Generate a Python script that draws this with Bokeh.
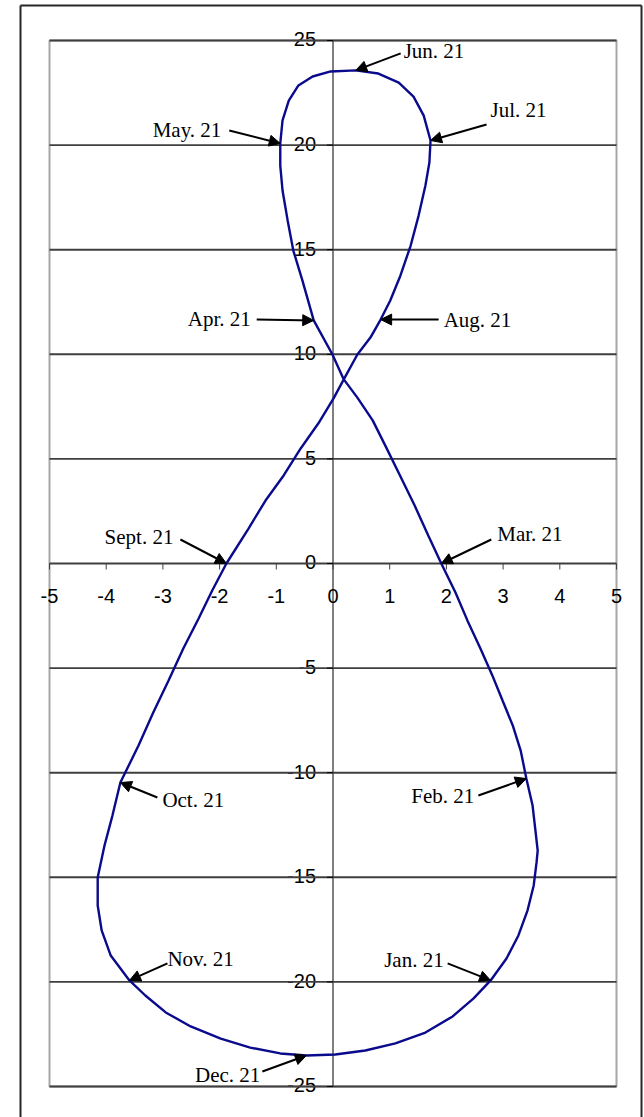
from bokeh.plotting import figure
from bokeh.models import Range1d, ColumnDataSource, Arrow, NormalHead
from bokeh.core.properties import value
from bokeh.embed import file_html
from bokeh.resources import INLINE

# Noon position of the sun through the year (analemma):
# east-west offset in degrees and declination in degrees, starting at Dec. 21
sun_x = [-0.47, 0.04, 0.57, 1.10, 1.63, 2.11, 2.48, 2.78, 3.06, 3.27, 3.43, 3.54,
         3.59, 3.61, 3.57, 3.52, 3.41, 3.31, 3.17, 2.99, 2.81, 2.60, 2.37, 2.16,
         1.91, 1.68, 1.44, 1.19, 0.94, 0.70, 0.43, 0.19, -0.01, -0.34, -0.54, -0.70,
         -0.80, -0.89, -0.93, -0.93, -0.89, -0.78, -0.61, -0.36, -0.04, 0.40, 0.80,
         1.16, 1.42, 1.60, 1.72, 1.70, 1.63, 1.51, 1.37, 1.19, 1.01, 0.84, 0.66,
         0.43, 0.19, 0.01, -0.26, -0.57, -0.87, -1.19, -1.49, -1.88, -2.13, -2.37,
         -2.64, -2.90, -3.17, -3.43, -3.75, -3.89, -4.03, -4.15, -4.15, -4.08, -3.92,
         -3.59, -3.31, -2.95, -2.51, -1.98, -1.46, -0.93, -0.47]
sun_decl = [-23.52, -23.47, -23.28, -22.94, -22.42, -21.65, -20.79, -19.93, -18.88,
            -17.78, -16.59, -15.39, -14.29, -13.72, -12.76, -11.57, -10.28, -8.94,
            -7.74, -6.55, -5.35, -4.06, -2.72, -1.39, 0.00, 1.34, 2.77, 4.16, 5.54,
            6.84, 7.93, 8.80, 9.99, 11.62, 13.53, 14.96, 16.40, 17.83, 19.02, 20.08,
            21.18, 22.13, 22.85, 23.28, 23.52, 23.57, 23.42, 22.99, 22.32, 21.41,
            20.22, 19.17, 18.07, 16.63, 15.20, 13.77, 12.57, 11.66, 10.80, 9.99, 8.80,
            7.89, 6.69, 5.50, 4.21, 3.01, 1.67, 0.00, -1.29, -2.63, -4.06, -5.59,
            -7.12, -8.70, -10.47, -12.05, -13.48, -15.01, -16.35, -17.54, -18.74,
            -19.93, -20.65, -21.46, -22.13, -22.71, -23.14, -23.42, -23.52]

# Marked dates on the curve
dates = ["Jun. 21", "Jul. 21", "May. 21", "Apr. 21", "Aug. 21", "Sept. 21",
         "Mar. 21", "Oct. 21", "Feb. 21", "Nov. 21", "Jan. 21", "Dec. 21"]
date_x = [0.40, 1.72, -0.93, -0.34, 0.84, -1.88, 1.91, -3.75, 3.41, -3.59, 2.78, -0.47]
date_decl = [23.57, 20.22, 20.08, 11.62, 11.66, 0.00, 0.00, -10.47, -10.28, -19.93,
             -19.93, -23.52]

x_ticks = [-5, -4, -3, -2, -1, 0, 1, 2, 3, 4, 5]
y_ticks = [-25, -20, -15, -10, -5, 0, 5, 10, 15, 20, 25]

# ---- page geometry (pixels) ----
W, H = 644, 1117
PL, PR, PT, PB = 49, 616, 40, 1086          # plot area edges
XMIN, XMAX, YMIN, YMAX = -5, 5, -25, 25
SX = (PR - PL) / (XMAX - XMIN)              # px per x unit
SY = (PB - PT) / (YMAX - YMIN)              # px per y unit


def gx(px):
    return XMIN + (px - PL) / SX


def gy(py):
    return YMAX - (py - PT) / SY


p = figure(width=W, height=H, output_backend="svg", toolbar_location=None,
           x_range=Range1d(gx(0), gx(W)), y_range=Range1d(gy(H), gy(0)),
           x_axis_location=None, y_axis_location=None, min_border=0,
           background_fill_color="white", border_fill_color="white")
p.outline_line_color = None
p.grid.visible = False

# outer chart border (left, top, right)
p.segment(x0=[gx(20), gx(20), gx(641)], y0=[gy(1130), gy(5), gy(5)],
          x1=[gx(20), gx(641), gx(641)], y1=[gy(5), gy(5), gy(1130)],
          line_color="#262626", line_width=2)

# plot area frame
p.quad(left=[XMIN], right=[XMAX], bottom=[YMIN], top=[YMAX],
       fill_color=None, line_color="#a6a6a6", line_width=2)

# vertical axis through x = 0
p.segment(x0=[0], y0=[YMIN], x1=[0], y1=[YMAX], line_color="black", line_width=1)

# tick labels (value labels sit on their grid line)
tick_font = value("Liberation Sans")
p.text(x=[0 - 17 / SX] * len(y_ticks), y=[t + 1.2 / SY for t in y_ticks],
       text=[str(t) for t in y_ticks],
       text_font=tick_font, text_font_size="20px", text_align="right",
       text_baseline="middle", text_color="black")
p.text(x=x_ticks, y=[0 - 32 / SY] * len(x_ticks), text=[str(t) for t in x_ticks],
       text_font=tick_font, text_font_size="20px", text_align="center",
       text_baseline="middle", text_color="black")

# horizontal grid lines (the one at 0 doubles as the x axis)
p.segment(x0=[XMIN] * len(y_ticks), y0=y_ticks, x1=[XMAX] * len(y_ticks), y1=y_ticks,
          line_color="#3f3f3f", line_width=1.9)

# tick marks
p.segment(x0=x_ticks, y0=[0] * len(x_ticks), x1=x_ticks, y1=[-6 / SY] * len(x_ticks),
          line_color="#3f3f3f", line_width=1)
p.segment(x0=[0] * len(y_ticks), y0=y_ticks, x1=[-6 / SX] * len(y_ticks), y1=y_ticks,
          line_color="black", line_width=1)

# the analemma
p.line(sun_x, sun_decl, line_color="#0a0a8c", line_width=2.4)

# label placement: (text dx, text dy, align, arrow-start dx, arrow-start dy) in px
placement = {
    "Jun. 21": (48, -19, "left", 45, -17),
    "Jul. 21": (60, -30, "left", 56, -16),
    "May. 21": (-59, -13, "right", -51, -13),
    "Apr. 21": (-63, -1, "right", -57, -1),
    "Aug. 21": (63, 0, "left", 58, 0),
    "Sept. 21": (-53, -27, "right", -46, -24),
    "Mar. 21": (56, -30, "left", 50, -24),
    "Oct. 21": (42, 17, "left", 37, 15),
    "Feb. 21": (-52, 17, "right", -48, 17),
    "Nov. 21": (38, -21, "left", 38, -17),
    "Jan. 21": (-47, -20, "right", -43, -17),
    "Dec. 21": (-46, 19, "right", -44, 16),
}

arrows = ColumnDataSource(data=dict(
    xs=[x + placement[d][3] / SX for d, x in zip(dates, date_x)],
    ys=[y - placement[d][4] / SY for d, y in zip(dates, date_decl)],
    xe=date_x, ye=date_decl))
p.add_layout(Arrow(source=arrows, x_start="xs", y_start="ys", x_end="xe", y_end="ye",
                   line_color="black", line_width=2,
                   end=NormalHead(size=11, fill_color="black", line_color="black")))

label_font = value("Liberation Serif")
for align in ("left", "right"):
    sel = [i for i, d in enumerate(dates) if placement[d][2] == align]
    p.text(x=[date_x[i] + placement[dates[i]][0] / SX for i in sel],
           y=[date_decl[i] - placement[dates[i]][1] / SY for i in sel],
           text=[dates[i] for i in sel], text_font=label_font,
           text_font_size="21px", text_align=align, text_baseline="middle",
           text_color="black")

open("out.html", "w").write(file_html(p, INLINE))
